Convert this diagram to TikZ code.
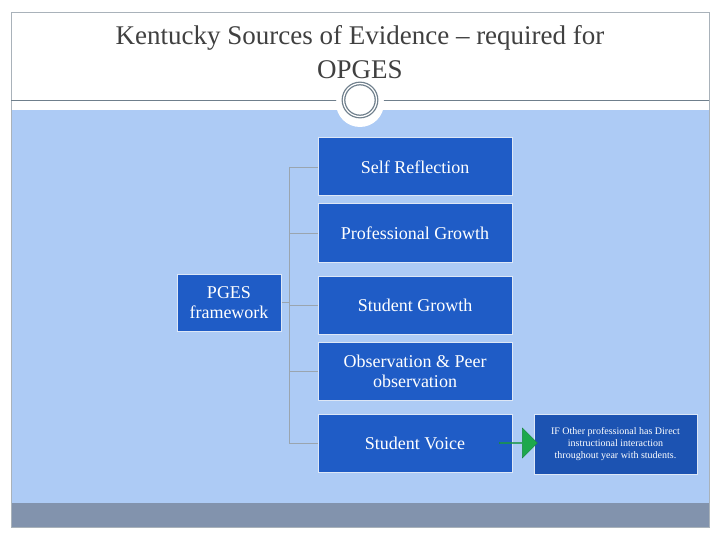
\documentclass[tikz,border=0pt]{standalone}
\usepackage{fontspec}
\setmainfont{Liberation Serif}
\usetikzlibrary{shapes.arrows}
\definecolor{bg}{HTML}{ADCBF5}
\definecolor{bx}{HTML}{1F5CC6}
\definecolor{band}{HTML}{8293AD}
\definecolor{frm}{HTML}{6F7F8C}
\definecolor{grn}{HTML}{1DA84C}
\tikzset{
 bbox/.style={draw=white!85!bx, line width=1pt, fill=bx, text=white, font=\fontsize{18}{20}\selectfont, align=center, inner sep=0pt},
 conn/.style={draw=frm!70!white, line width=0.8pt}
}
\begin{document}
\begin{tikzpicture}[x=1pt,y=-1pt]
\useasboundingbox (0,0) rectangle (720,540);
\fill[white] (0,0) rectangle (720,540);
\fill[bg] (11,110) rectangle (709,503);
\fill[band] (11,503) rectangle (709,527);
\draw[frm!60!white, line width=0.6pt] (11,12) rectangle (709,527);
\draw[frm, line width=0.8pt] (11,100) -- (709,100);
\node (title) at (360,52) [align=center, font=\fontsize{27}{34}\selectfont, text=black!75] {Kentucky Sources of Evidence -- required for\\OPGES};
\fill[white] (360,103) circle (24);
\node (ring) at (360,100) [circle, draw=frm, double=white, double distance=1.2pt, line width=1.3pt, minimum size=33pt] {};
\node[bbox, minimum width=194pt, minimum height=58pt] (s1) at (415,167) {Self Reflection};
\node[bbox, minimum width=194pt, minimum height=58pt] (s2) at (415,233) {Professional Growth};
\node[bbox, minimum width=194pt, minimum height=58pt] (s3) at (415,305) {Student Growth};
\node[bbox, minimum width=194pt, minimum height=58pt] (s4) at (415,371) {Observation \& Peer\\observation};
\node[bbox, minimum width=194pt, minimum height=58pt] (s5) at (415,443) {Student Voice};
\node[bbox, minimum width=104pt, minimum height=57pt, anchor=north] (p) at (229,274) {PGES\\framework};
\coordinate (t) at (289,167);
\coordinate (b) at (289,443);
\draw[conn] (t) -- (b);
\foreach \s in {s1,s2,s3,s4,s5} \draw[conn] (t |- \s.west) -- (\s.west);
\draw[conn] (p.east |- 0,302) -- (t |- 0,302);
\node[bbox, line width=0.6pt, fill=bx!90!black, minimum width=163pt, minimum height=60pt, font=\fontsize{10}{12}\selectfont] (r) at (615.5,444) {IF Other professional has Direct\\instructional interaction\\throughout year with students.};
\node[single arrow, fill=grn, draw=grn!80!black, minimum height=38pt, minimum width=30pt, single arrow head extend=4pt, inner sep=0pt] (a) at (518,443) {};
\end{tikzpicture}
\end{document}
